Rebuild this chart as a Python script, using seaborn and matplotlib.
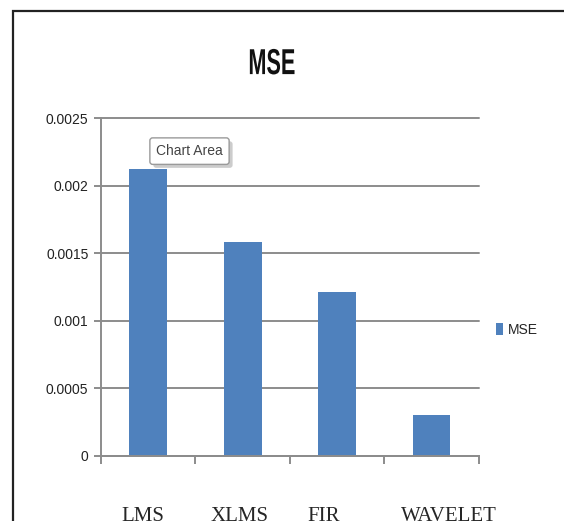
import matplotlib
matplotlib.use("Agg")
import matplotlib.pyplot as plt
from matplotlib.patches import Rectangle
from matplotlib.ticker import FixedLocator, FixedFormatter
from matplotlib.transforms import ScaledTranslation, Affine2D
import matplotlib.patheffects as pe
import seaborn as sns
import pandas as pd

# MSE of each filtering method
methods = ["LMS", "XLMS", "FIR", "WAVELET"]
mse = [0.00212, 0.00158, 0.00121, 0.00030]
yticks = [0, 0.0005, 0.001, 0.0015, 0.002, 0.0025]
ytick_labels = ["0", "0.0005", "0.001", "0.0015", "0.002", "0.0025"]

df = pd.DataFrame({"Method": methods, "MSE": mse})

sns.set_style("white")
sans = ["Liberation Sans", "DejaVu Sans"]
plt.rcParams["font.family"] = sans

W, H, DPI = 5.64, 5.21, 100
fig = plt.figure(figsize=(W, H), dpi=DPI)
ax = fig.add_axes([0.179, 0.1248, 0.670, 0.6487])


class Condense(pe.AbstractPathEffect):
    """Squeeze glyphs horizontally about a fixed x position (in pixels)."""

    def __init__(self, cx, sx):
        super().__init__()
        self.cx, self.sx = cx, sx

    def draw_path(self, renderer, gc, tpath, affine, rgbFace=None):
        squeeze = Affine2D().translate(-self.cx, 0).scale(self.sx, 1).translate(self.cx, 0)
        renderer.draw_path(gc, tpath, affine + squeeze, rgbFace)


bar_color = "#4F81BD"
sns.barplot(data=df, x="Method", y="MSE", color=bar_color, width=0.4,
            saturation=1, ax=ax, label="MSE", edgecolor="none")

ax.set_ylim(0, 0.0025)
ax.set_xlim(-0.5, len(methods) - 0.5)
ax.yaxis.set_major_locator(FixedLocator(yticks))
ax.yaxis.set_major_formatter(FixedFormatter(ytick_labels))
ax.grid(axis="y", color="#8c8c8c", linewidth=1.4)
for gl in ax.get_ygridlines():
    gl.set_clip_on(False)
ax.set_axisbelow(True)
ax.set_xlabel("")
ax.set_ylabel("")

for side in ["top", "right"]:
    ax.spines[side].set_visible(False)
for side in ["left", "bottom"]:
    ax.spines[side].set_color("#8c8c8c")
    ax.spines[side].set_linewidth(1.4)

ax.tick_params(axis="y", which="major", direction="out", length=5, width=1.4,
               color="#8c8c8c", labelsize=10, pad=4, left=True,
               labelcolor="#222222")

# category separators on the x axis, labels set well below
ax.xaxis.set_minor_locator(FixedLocator([i - 0.5 for i in range(len(methods) + 1)]))
ax.tick_params(axis="x", which="minor", direction="out", length=6, width=1.4,
               color="#8c8c8c", bottom=True)
ax.tick_params(axis="x", which="major", length=0, pad=37, labelsize=15)
label_shift_px = [-5, -3, -14, 17]
for lbl, dx in zip(ax.get_xticklabels(), label_shift_px):
    lbl.set_family(["Liberation Serif", "DejaVu Serif"])
    lbl.set_verticalalignment("top")
    lbl.set_transform(lbl.get_transform() + ScaledTranslation(dx / DPI, 0, fig.dpi_scale_trans))

title_x = 0.482
fig.text(title_x, 0.876, "MSE", ha="center", va="center", fontsize=26,
         fontweight="bold", color="#111111",
         path_effects=[Condense(title_x * W * DPI, 0.6)])

# legend to the right
leg = ax.legend(loc="center left", bbox_to_anchor=(1.03, 0.373), frameon=False,
                fontsize=10, handlelength=0.55, handleheight=0.9, handletextpad=0.3,
                borderaxespad=0)

# "Chart Area" tooltip box with a soft shadow
tip = ax.annotate("Chart Area", xy=(0.146, 0.902), xycoords="axes fraction",
                  fontsize=10, va="center", color="#444444", zorder=5,
                  bbox=dict(boxstyle="round,pad=0.45,rounding_size=0.2",
                            fc="white", ec="#9a9a9a", lw=1.0))
tip.get_bbox_patch().set_path_effects(
    [pe.withSimplePatchShadow(offset=(2.5, -2.5), shadow_rgbFace="#9a9a9a", alpha=0.5)])

# outer chart frame
fig.patches.append(Rectangle((0.023, -0.1), 1.2, 1.079, transform=fig.transFigure,
                             fill=False, ec="#222222", lw=1.6, zorder=10))

fig.savefig("out.png", dpi=DPI)
